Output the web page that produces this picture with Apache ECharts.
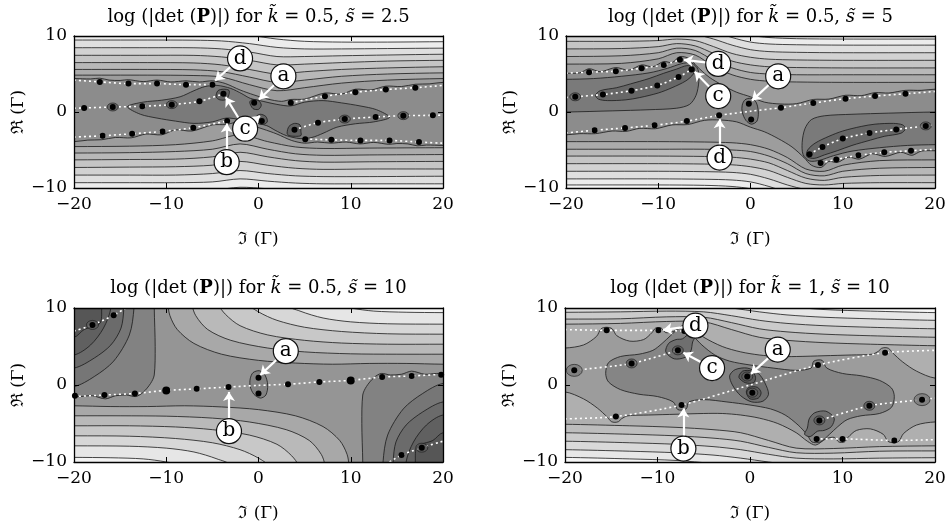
<!DOCTYPE html>
<html>
<head>
<meta charset="utf-8">
<script src="https://cdn.jsdelivr.net/npm/echarts@6/dist/echarts.min.js"></script>
<style>
  html, body { margin: 0; background: #fff; }
  #chart { width: 952px; height: 530px; }
</style>
</head>
<body>
<div id="chart"></div>
<script>
// ---- panel parameters ----
const kValues = ['0.5', '0.5', '0.5', '1'];
const sValues = ['2.5', '5', '10', '10'];

// ---- panel 1 : k=0.5, s=2.5 ----
const xs1 = [-20, -12, -7, -4, -1, 2, 5, 9, 14, 20];
const upper1 = [
  [10.5, 10.5, 10.5, 10.4, 10.1, 9.6, 9.3, 9.2, 9.2, 9.25],
  [9.47, 9.47, 9.45, 9.35, 9.0, 8.5, 8.3, 8.3, 8.35, 8.4],
  [8.46, 8.46, 8.45, 8.3, 7.9, 7.3, 7.3, 7.4, 7.5, 7.6],
  [7.46, 7.46, 7.45, 7.25, 6.8, 6.2, 6.3, 6.5, 6.7, 6.8],
  [6.5, 6.5, 6.45, 6.2, 5.6, 5.0, 5.3, 5.6, 5.8, 5.95],
  [5.6, 5.6, 5.55, 5.3, 4.6, 3.9, 4.2, 4.7, 5.0, 5.15],
  [4.85, 4.85, 4.8, 4.6, 3.6, 2.8, 3.2, 3.8, 4.2, 4.4]
];
const xs1b = [-20, -14, -9, -5, -2, 1, 4, 7, 12, 20];
const lower1 = [
  [-10.4, -10.4, -10.4, -10.3, -9.9, -10.1, -10.3, -10.4, -10.45, -10.5],
  [-9.3, -9.3, -9.3, -9.2, -8.8, -9.1, -9.35, -9.45, -9.45, -9.45],
  [-8.3, -8.3, -8.3, -8.1, -7.7, -8.1, -8.4, -8.5, -8.5, -8.45],
  [-7.3, -7.25, -7.2, -7.0, -6.5, -7.0, -7.4, -7.55, -7.5, -7.5],
  [-6.3, -6.25, -6.2, -5.9, -5.3, -5.9, -6.4, -6.6, -6.55, -6.5],
  [-5.4, -5.35, -5.2, -4.9, -4.2, -4.9, -5.5, -5.7, -5.65, -5.6],
  [-4.55, -4.5, -4.3, -3.8, -3.0, -3.9, -4.6, -4.8, -4.75, -4.7]
];
const ctop1 = [[-20,4.4],[-18.2,4.35],[-17.2,4.45],[-16.2,4.2],[-15,4.15],[-14.1,4.25],[-12.5,4.0],[-11,4.2],[-9.5,3.95],[-7.86,4.1],[-6.4,3.95],[-5,4.1],[-3.6,3.75],[-2,2.9],[-0.5,2.25],[1,1.7],[2.5,1.4],[3.5,1.65],[5,1.7],[7.2,2.5],[9,2.35],[10.5,3.0],[12.2,2.9],[13.8,3.4],[15.5,3.35],[17,3.65],[18.5,3.7],[20,3.9]];
const cbot1 = [[-20,-3.9],[-18.5,-3.7],[-17,-3.65],[-15.5,-3.35],[-13.8,-3.4],[-12.2,-2.9],[-10.5,-3.0],[-9,-2.35],[-7.2,-2.5],[-5,-1.7],[-3.5,-1.65],[-2.5,-1.4],[-1,-1.7],[0.5,-2.25],[2,-2.9],[3.6,-3.75],[5,-4.1],[6.4,-3.95],[7.86,-4.1],[9.5,-3.95],[11,-4.2],[12.5,-4.0],[14.1,-4.25],[15,-4.15],[16.2,-4.2],[17.2,-4.45],[18.2,-4.35],[20,-4.4]];
const inner1 = [[-14.2,0.7],[-12.5,1.3],[-10.5,1.55],[-8.5,2.0],[-7,2.8],[-5.8,3.35],[-4.5,3.5],[-3,3.1],[-1.8,2.4],[-0.9,1.8],[0.5,1.4],[2,1.0],[3.5,0.8],[5,1.3],[7,1.5],[9,1.2],[11,0.8],[12.8,0.3],[14.2,-0.7],[12.5,-1.3],[10.5,-1.55],[8.5,-2.0],[7,-2.8],[5.8,-3.35],[4.5,-3.5],[3,-3.1],[1.8,-2.4],[0.9,-1.8],[-0.5,-1.4],[-2,-1.0],[-3.5,-0.8],[-5,-1.3],[-7,-1.5],[-9,-1.2],[-11,-0.8],[-12.8,-0.3]];
const dark1 = [
  [[-4.6,2.0],[-4.4,2.8],[-3.8,3.0],[-3.2,2.85],[-3.2,2.3],[-3.5,1.65],[-4.2,1.6]],
  [[-0.95,1.3],[-0.6,1.65],[0.05,1.45],[0.3,0.9],[0.0,0.35],[-0.6,0.45]],
  [[-0.3,-0.65],[0.2,-0.3],[0.8,-0.6],[0.95,-1.3],[0.45,-1.65],[-0.2,-1.35]],
  [[3.1,-2.8],[3.3,-1.9],[3.9,-1.5],[4.5,-1.7],[4.6,-2.6],[4.6,-3.1],[4.0,-3.2],[3.3,-3.1]]
];
const zeros1 = [[-17.2,3.96],[-14.1,3.74],[-11.0,3.74],[-7.86,3.6],[-5.0,3.6],[-3.8,2.4],[-6.4,1.4],[-9.4,0.97],[-12.6,0.75],[-15.8,0.66],[-18.9,0.53],[-0.47,1.23],[0.36,-1.19],[-3.4,-1.19],[-7.07,-2.07],[-10.4,-2.56],[-13.7,-2.86],[-16.9,-3.13],[3.9,-2.33],[6.45,-1.4],[9.35,-0.93],[12.7,-0.66],[15.7,-0.48],[18.9,-0.44],[3.5,1.23],[7.2,2.07],[10.5,2.6],[13.8,2.95],[17.0,3.2],[5.07,-3.57],[7.9,-3.66],[11.05,-3.74],[14.2,-3.74],[17.4,-3.96]];
const rings1 = [[-15.8,0.66],[-9.4,0.97],[9.35,-0.93],[15.7,-0.48]];
const paths1 = [
  [[-20,4.2],[-17.2,3.96],[-14.1,3.74],[-11,3.74],[-7.86,3.6],[-5,3.6]],
  [[-20,0.5],[-18.9,0.53],[-15.8,0.66],[-12.6,0.75],[-9.4,0.97],[-6.4,1.4],[-3.8,2.4]],
  [[-20,-3.3],[-16.9,-3.13],[-13.7,-2.86],[-10.4,-2.56],[-7.07,-2.07],[-3.4,-1.19]],
  [[3.5,1.23],[7.2,2.07],[10.5,2.6],[13.8,2.95],[17,3.2],[20,3.5]],
  [[3.9,-2.33],[6.45,-1.4],[9.35,-0.93],[12.7,-0.66],[15.7,-0.48],[18.9,-0.44],[20,-0.4]],
  [[5.07,-3.57],[7.9,-3.66],[11.05,-3.74],[14.2,-3.74],[17.4,-3.96],[20,-4.1]]
];
const tags1 = [['d',-2.0,7.05],['a',2.7,4.7],['c',-1.45,-2.2],['b',-3.45,-6.6]];
const arrows1 = [[-2.0,7.05,-4.7,4.15],[2.7,4.7,0.05,1.65],[-1.45,-2.2,-3.55,1.95],[-1.45,-2.2,0.15,-0.5],[-3.45,-6.6,-3.45,-1.5]];

// ---- panel 2 : k=0.5, s=5 ----
const xs2 = [-20, -14, -10, -8, -6, -4, -2, 0, 2, 5, 10, 20];
const upper2 = [
  [12.2, 12.2, 12.2, 12.2, 12.0, 11.5, 10.7, 10.1, 9.8, 9.65, 9.6, 9.6],
  [11.3, 11.3, 11.3, 11.3, 11.1, 10.6, 9.8, 9.2, 8.95, 8.85, 8.8, 8.8],
  [10.3, 10.3, 10.35, 10.4, 10.2, 9.6, 8.8, 8.2, 7.95, 7.85, 7.8, 7.8],
  [9.3, 9.3, 9.4, 9.6, 9.4, 8.6, 7.7, 7.2, 6.95, 6.85, 6.8, 6.8],
  [8.3, 8.35, 8.6, 9.0, 8.7, 7.7, 6.7, 6.2, 5.95, 5.85, 5.8, 5.8],
  [7.3, 7.4, 7.8, 8.4, 8.1, 6.8, 5.8, 5.2, 5.0, 4.9, 4.9, 4.9],
  [6.3, 6.4, 7.0, 7.8, 7.5, 6.0, 4.9, 4.3, 4.05, 3.95, 3.9, 3.9]
];
const xs2b = [-20, -10, -5, -2, 0, 2, 4, 6, 8, 10, 14, 20];
const lower2 = [
  [-9.6, -9.6, -9.65, -9.8, -10.1, -10.7, -11.5, -12.0, -12.2, -12.2, -12.2, -12.2],
  [-8.8, -8.8, -8.85, -8.95, -9.2, -9.8, -10.6, -11.1, -11.3, -11.3, -11.3, -11.3],
  [-7.8, -7.8, -7.85, -7.95, -8.2, -8.8, -9.6, -10.2, -10.4, -10.35, -10.3, -10.3],
  [-6.8, -6.8, -6.85, -6.95, -7.2, -7.7, -8.6, -9.4, -9.6, -9.4, -9.3, -9.3],
  [-5.8, -5.8, -5.85, -5.95, -6.2, -6.7, -7.7, -8.7, -9.0, -8.6, -8.35, -8.3],
  [-4.9, -4.9, -4.9, -5.0, -5.2, -5.8, -6.8, -8.1, -8.4, -7.8, -7.4, -7.3],
  [-3.9, -3.9, -3.95, -4.05, -4.3, -4.9, -6.0, -7.5, -7.8, -7.0, -6.4, -6.3]
];
const mtop2 = [[-20,5.1],[-18.5,5.15],[-17.5,5.7],[-16.3,5.3],[-14.6,5.85],[-13.2,5.5],[-11.8,6.2],[-10.6,5.95],[-9.4,6.65],[-8.5,6.5],[-7.65,7.3],[-6.6,7.0],[-5.8,6.0],[-4.5,4.6],[-3,3.5],[-1.5,2.6],[0,2.0],[1.5,1.3],[3.3,1.05],[5,1.1],[6.8,1.65],[8.5,1.7],[10.3,2.2],[12,2.15],[13.5,2.55],[15,2.5],[16.8,2.85],[18.5,2.85],[20,3.0]];
const mbot2 = [[-20,-3.0],[-18.5,-2.85],[-16.8,-2.85],[-15,-2.5],[-13.5,-2.55],[-12,-2.15],[-10.3,-2.2],[-8.5,-1.7],[-6.8,-1.65],[-5,-1.1],[-3.3,-1.05],[-1.5,-1.3],[0,-2.0],[1.5,-2.6],[3,-3.5],[4.5,-4.6],[5.8,-6.0],[6.6,-7.0],[7.65,-7.3],[8.5,-6.5],[9.4,-6.65],[10.6,-5.95],[11.8,-6.2],[13.2,-5.5],[14.6,-5.85],[16.3,-5.3],[17.5,-5.7],[18.5,-5.15],[20,-5.1]];
const lobes2 = [
  [[-20,0.0],[-15,0.15],[-11,0.3],[-8,0.5],[-6.6,1.0],[-5.9,2.2],[-5.6,4.0],[-5.7,5.6],[-6.4,6.45],[-7.5,6.35],[-9,5.75],[-11,5.15],[-14,4.7],[-17,4.4],[-20,4.3]],
  [[20,0.0],[15,-0.15],[11,-0.3],[8,-0.5],[6.6,-1.0],[5.9,-2.2],[5.6,-4.0],[5.7,-5.6],[6.4,-6.45],[7.5,-6.35],[9,-5.75],[11,-5.15],[14,-4.7],[17,-4.4],[20,-4.3]]
];
const cores2 = [
  [[-16.8,2.2],[-16.3,2.8],[-14.5,3.2],[-13,3.7],[-11,4.4],[-9.4,5.1],[-8,5.65],[-6.9,6.1],[-6.1,5.85],[-6.2,5.0],[-7.0,4.1],[-8.5,3.2],[-10,2.5],[-12,1.9],[-13.5,1.6],[-15.5,1.5],[-16.5,1.7]],
  [[16.8,-2.2],[16.3,-2.8],[14.5,-3.2],[13,-3.7],[11,-4.4],[9.4,-5.1],[8,-5.65],[6.9,-6.1],[6.1,-5.85],[6.2,-5.0],[7.0,-4.1],[8.5,-3.2],[10,-2.5],[12,-1.9],[13.5,-1.6],[15.5,-1.5],[16.5,-1.7]]
];
const oval2 = [[-0.9,0.9],[-0.6,1.6],[0,1.8],[0.6,1.3],[0.85,0.0],[0.7,-1.2],[0.1,-1.6],[-0.5,-1.1],[-0.9,0.0]];
const zeros2 = [[-17.5,5.24],[-14.6,5.37],[-11.8,5.76],[-9.4,6.2],[-7.65,6.86],[-19.0,2.0],[-16.0,2.3],[-12.9,2.8],[-10.1,3.5],[-7.8,4.6],[-6.4,5.6],[-16.9,-2.4],[-13.6,-2.1],[-10.4,-1.75],[-6.9,-1.2],[-3.4,-0.44],[-0.18,1.1],[0.07,-1.0],[3.3,0.57],[6.8,1.18],[10.3,1.75],[13.5,2.1],[16.8,2.4],[6.4,-5.55],[7.8,-4.6],[10.0,-3.5],[12.9,-2.75],[15.8,-2.3],[19.0,-1.83],[7.6,-6.7],[9.3,-6.24],[11.7,-5.7],[14.5,-5.3],[17.4,-5.1]];
const rings2 = [[-19.0,2.0],[19.0,-1.83]];
const paths2 = [
  [[-20,5.1],[-17.5,5.24],[-14.6,5.37],[-11.8,5.76],[-9.4,6.2],[-7.65,6.86]],
  [[-20,1.9],[-19,2.0],[-16,2.3],[-12.9,2.8],[-10.1,3.5],[-7.8,4.6],[-6.4,5.6]],
  [[-20,-2.75],[-16.9,-2.4],[-13.6,-2.1],[-10.4,-1.75],[-6.9,-1.2],[-3.4,-0.44],[0,0.1],[3.3,0.57],[6.8,1.18],[10.3,1.75],[13.5,2.1],[16.8,2.4],[20,2.7]],
  [[6.4,-5.55],[7.8,-4.6],[10,-3.5],[12.9,-2.75],[15.8,-2.3],[19,-1.83],[20,-1.7]],
  [[7.6,-6.7],[9.3,-6.24],[11.7,-5.7],[14.5,-5.3],[17.4,-5.1],[20,-4.9]]
];
const tags2 = [['d',-3.5,6.33],['c',-3.5,2.1],['a',3.0,4.7],['d',-3.35,-6.0]];
const arrows2 = [[-3.5,6.33,-7.2,6.85],[-3.5,2.1,-6.05,5.3],[3.0,4.7,0.15,1.5],[-3.35,-6.0,-3.35,-0.95]];

// ---- panel 3 : k=0.5, s=10 ----
const upLines3 = [
  [[8.5,10.5],[10,10.0],[12.5,9.6],[16,9.45],[20,9.4]],
  [[3.0,10.5],[4.5,9.6],[7,8.7],[10,8.2],[14,7.95],[20,7.9]],
  [[-1.0,10.5],[0,9.5],[2,8.4],[5,7.5],[9,6.95],[14,6.65],[20,6.6]],
  [[-4.3,10.5],[-3.6,9.2],[-2,7.7],[1,6.5],[5,5.8],[9,5.45],[14,5.3],[20,5.3]],
  [[-7.2,10.5],[-6.8,9.0],[-5.5,7.2],[-3,5.8],[1,4.8],[5,4.3],[10,4.05],[15,4.0],[20,4.0]],
  [[-9.8,10.5],[-9.6,9.0],[-8.8,7.2],[-7,5.4],[-4,4.0],[0,3.2],[4,2.85],[8,2.7],[12,2.8],[16,2.8],[20,2.7]]
];
const lowLines3 = [
  [[-20,-9.4],[-16,-9.45],[-12.5,-9.6],[-10,-10.0],[-8.5,-10.5]],
  [[-20,-7.9],[-14,-7.95],[-10,-8.2],[-7,-8.7],[-4.5,-9.6],[-3.0,-10.5]],
  [[-20,-6.6],[-14,-6.65],[-9,-6.95],[-5,-7.5],[-2,-8.4],[0,-9.5],[1.0,-10.5]],
  [[-20,-5.3],[-14,-5.3],[-9,-5.45],[-5,-5.8],[-1,-6.5],[2,-7.7],[3.6,-9.2],[4.3,-10.5]],
  [[-20,-4.0],[-15,-4.0],[-10,-4.05],[-5,-4.3],[-1,-4.8],[3,-5.8],[5.5,-7.2],[6.8,-9.0],[7.2,-10.5]],
  [[-20,-2.7],[-16,-2.8],[-12,-2.8],[-8,-2.7],[-4,-2.85],[0,-3.2],[4,-4.0],[7,-5.4],[8.8,-7.2],[9.6,-9.0],[9.8,-10.5]]
];
const tlEdge3 = [[-11.3,10],[-11.2,5],[-11.3,1.3],[-11.7,0.2],[-12.5,-0.95],[-13.3,-1.5],[-14.3,-1.3],[-15.5,-1.4],[-16.6,-1.8],[-18,-1.4],[-19.3,-1.5],[-20,-1.5]];
const brEdge3 = [[11.3,-10],[11.2,-5],[11.3,-1.3],[11.7,-0.2],[12.5,0.95],[13.3,1.5],[14.3,1.3],[15.5,1.4],[16.6,1.8],[18,1.4],[19.3,1.5],[20,1.5]];
const tlArcs3 = [
  [[-20,-0.2],[-17.8,1.1],[-15.7,3.1],[-14.0,6.5],[-13.5,10]],
  [[-20,2.2],[-17.8,3.5],[-16,5.2],[-14.9,7.4],[-14.6,10]],
  [[-20,3.9],[-18.2,5.2],[-16.8,7.4],[-16,10]],
  [[-20,6.2],[-18.9,7.2],[-17.2,8.0],[-17.0,10]]
];
const brArcs3 = [
  [[20,0.2],[17.8,-1.1],[15.7,-3.1],[14.0,-6.5],[13.5,-10]],
  [[20,-2.2],[17.8,-3.5],[16,-5.2],[14.9,-7.4],[14.6,-10]],
  [[20,-3.9],[18.2,-5.2],[16.8,-7.4],[16,-10]],
  [[20,-6.2],[18.9,-7.2],[17.2,-8.0],[17.0,-10]]
];
const oval3 = [[-0.9,0.8],[-0.6,1.6],[0.1,1.85],[0.7,1.3],[1.0,0.0],[0.8,-1.3],[0.2,-1.7],[-0.5,-1.2],[-0.9,-0.2]];
const zeros3 = [[-15.7,9.05],[-18.0,7.8],[-19.9,-1.4],[-16.7,-1.3],[-13.4,-1.1],[-6.7,-0.5],[-3.25,-0.26],[0.0,0.95],[0.0,-1.1],[3.2,0.1],[6.6,0.4],[13.4,1.04],[16.6,1.17],[19.8,1.34],[17.7,-8.14],[15.5,-9.1]];
const bigZeros3 = [[-10.0,-0.7],[10.0,0.6]];
const rings3 = [[-18.0,7.8],[17.7,-8.14]];
const paths3 = [
  [[-20,-1.5],[-16.7,-1.3],[-13.4,-1.1],[-10,-0.7],[-6.7,-0.5],[-3.25,-0.26],[0,-0.05],[3.2,0.1],[6.6,0.4],[10,0.6],[13.4,1.04],[16.6,1.17],[20,1.4]],
  [[-20,7.0],[-18,7.8],[-15.7,9.05],[-14.4,10]],
  [[14.2,-10],[15.5,-9.1],[17.7,-8.14],[20,-7.3]]
];
const tags3 = [['a',2.96,4.4],['b',-3.2,-6.0]];
const arrows3 = [[2.96,4.4,0.2,1.3],[-3.2,-6.0,-3.2,-0.9]];

// ---- panel 4 : k=1, s=10 ----
const xs4 = [-20, -14, -9, -5, -2, 1, 4, 8, 13, 20];
const upper4 = [
  [11.2, 11.2, 11.2, 11.2, 11.0, 10.6, 10.2, 9.8, 9.6, 9.4],
  [10.3, 10.3, 10.4, 10.4, 10.0, 9.5, 9.1, 8.8, 8.6, 8.4],
  [9.44, 9.5, 9.6, 9.5, 9.0, 8.4, 8.0, 7.7, 7.5, 7.3],
  [8.56, 8.6, 8.85, 8.8, 8.1, 7.3, 6.9, 6.6, 6.4, 6.2],
  [7.9, 8.0, 8.25, 8.2, 7.2, 6.2, 5.8, 5.5, 5.3, 5.1]
];
const xs4b = [-20, -13, -8, -4, -1, 2, 5, 9, 14, 20];
const lower4 = [
  [-9.4, -9.6, -9.8, -10.2, -10.6, -11.0, -11.2, -11.2, -11.2, -11.2],
  [-8.4, -8.6, -8.8, -9.1, -9.5, -10.0, -10.4, -10.4, -10.3, -10.3],
  [-7.3, -7.5, -7.7, -8.0, -8.4, -9.0, -9.5, -9.6, -9.5, -9.44],
  [-6.2, -6.4, -6.6, -6.9, -7.3, -8.1, -8.8, -8.85, -8.6, -8.56],
  [-5.1, -5.3, -5.5, -5.8, -6.2, -7.2, -8.2, -8.25, -8.0, -7.9]
];
const qtop4 = [[-20,4.8],[-18,5.2],[-16.6,6.3],[-16.1,7.3],[-15.5,7.5],[-14.9,7.3],[-14.4,6.4],[-13,5.7],[-11.5,5.9],[-10.6,6.8],[-10.2,7.4],[-9.6,7.4],[-9.1,6.8],[-8.2,7.0],[-7.1,7.8],[-6.2,7.3],[-5,6.2],[-3,5.0],[-1,4.3],[1,3.9],[3,3.7],[5,3.7],[8,3.8],[11,3.9],[13.2,4.0],[13.9,4.4],[14.2,4.75],[14.6,4.85],[15.0,4.75],[15.4,4.2],[16.5,3.0],[18,1.8],[20,0.9]];
const qbot4 = [[-20,-0.9],[-18,-1.8],[-16.5,-3.0],[-15.4,-4.2],[-15.0,-4.75],[-14.6,-4.85],[-14.2,-4.75],[-13.9,-4.4],[-13.2,-4.0],[-11,-3.9],[-8,-3.8],[-5,-3.7],[-3,-3.7],[-1,-3.9],[1,-4.3],[3,-5.0],[5,-6.2],[6.2,-7.3],[7.1,-7.8],[8.2,-7.0],[9.1,-6.8],[9.6,-7.4],[10.2,-7.4],[10.6,-6.8],[11.5,-5.9],[13,-5.7],[14.4,-6.4],[14.9,-7.3],[15.5,-7.5],[16.1,-7.3],[16.6,-6.3],[18,-5.2],[20,-4.8]];
const body4 = [[-15.6,1.5],[-15.3,2.9],[-14,3.7],[-12,4.0],[-10.5,4.5],[-9.5,5.4],[-8.6,6.4],[-7.6,7.4],[-6.7,7.4],[-6.2,6.5],[-5.2,5.2],[-3.8,3.9],[-2.2,3.1],[0,2.6],[2.5,2.2],[5,1.9],[6.6,2.2],[6.9,3.1],[7.8,3.2],[8.3,2.2],[10,1.5],[12,1.2],[14,0.6],[15.3,-0.4],[15.6,-1.5],[15.3,-2.9],[14,-3.7],[12,-4.0],[10.5,-4.5],[9.5,-5.4],[8.6,-6.4],[7.6,-7.4],[6.7,-7.4],[6.2,-6.5],[5.2,-5.2],[3.8,-3.9],[2.2,-3.1],[0,-2.6],[-2.5,-2.2],[-5,-1.9],[-6.6,-2.2],[-6.9,-3.1],[-7.8,-3.2],[-8.3,-2.2],[-10,-1.5],[-12,-1.2],[-14,-0.6],[-15.3,0.4]];
const blobs4 = [
  [[-9.1,4.3],[-8.8,5.4],[-8.0,5.9],[-7.3,6.0],[-6.5,6.7],[-5.9,6.4],[-6.2,5.6],[-6.4,4.4],[-7.0,3.6],[-8.2,3.4]],
  [[9.1,-4.3],[8.8,-5.4],[8.0,-5.9],[7.3,-6.0],[6.5,-6.7],[5.9,-6.4],[6.2,-5.6],[6.4,-4.4],[7.0,-3.6],[8.2,-3.4]],
  [[-2.2,1.2],[-1.6,2.0],[-0.3,2.2],[0.9,1.5],[1.6,0.3],[2.0,-1.2],[1.4,-2.1],[0.2,-2.2],[-1.0,-1.4],[-1.9,0.0]]
];
const cores4 = [
  [[-1.2,1.0],[-0.8,1.8],[0.2,1.8],[0.6,1.0],[0.4,0.3],[-0.5,0.3]],
  [[-0.4,-0.9],[-0.1,-0.3],[0.8,-0.3],[1.2,-1.0],[0.9,-1.7],[0.0,-1.8]]
];
const zeros4 = [[-15.5,7.1],[-9.9,7.1],[-7.1,7.0],[-7.8,4.5],[-12.8,2.8],[-19.0,1.9],[-0.3,1.1],[0.25,-1.0],[-7.4,-2.6],[-14.5,-4.1],[7.5,-4.6],[12.9,-2.7],[18.6,-1.9],[7.2,-7.0],[10.0,-7.0],[15.6,-7.2],[7.35,2.6],[14.6,4.2]];
const bigRings4 = [[-19.0,1.9],[18.6,-1.9]];
const rings4 = [[-12.8,2.8],[12.9,-2.7],[-7.8,4.5],[7.5,-4.6],[-0.3,1.1],[0.25,-1.0]];
const paths4 = [
  [[-20,7.2],[-15.5,7.1],[-9.9,7.1],[-7.1,7.0]],
  [[-20,1.7],[-19,1.9],[-12.8,2.8],[-7.8,4.5]],
  [[-20,-4.4],[-14.5,-4.1],[-7.4,-2.6],[0,0],[7.35,2.6],[14.6,4.2],[20,4.5]],
  [[7.8,-4.5],[12.9,-2.7],[18.6,-1.9],[20,-1.7]],
  [[7.1,-7.0],[10,-7.0],[15.6,-7.2],[20,-7.1]]
];
const tags4 = [['d',-5.9,7.7],['c',-4.1,2.2],['a',3.0,4.6],['b',-7.2,-8.26]];
const arrows4 = [[-5.9,7.7,-9.4,7.15],[-4.1,2.2,-7.2,4.2],[3.0,4.6,0.1,1.45],[-7.2,-8.26,-7.2,-3.05]];

// ---- styling ----
const FONT = '"DejaVu Serif", "Liberation Serif", serif';
const LINE = '#1a1a1a';
const grids = [
  { left: 74, top: 36, width: 369, height: 152 },
  { left: 566, top: 36, width: 369, height: 152 },
  { left: 74, top: 308, width: 369, height: 154 },
  { left: 565, top: 308, width: 370, height: 154 }
];
const bgColors = ['#f6f6f6', '#f6f6f6', '#f3f3f3', '#f5f5f5'];
const bands7 = ['#ececec', '#dfdfdf', '#d2d2d2', '#c5c5c5', '#b8b8b8', '#ababab', '#9d9d9d'];

// ---- geometry helpers (closing contour lines outside the plot area) ----
function ext(p) {
  if (p[0] <= -19.9) return [-24, p[1]];
  if (p[0] >= 19.9) return [24, p[1]];
  if (p[1] >= 9.9) return [p[0], 14];
  if (p[1] <= -9.9) return [p[0], -14];
  return null;
}
function region(pts, corner) {
  const out = [];
  const a = ext(pts[0]), b = ext(pts[pts.length - 1]);
  if (a) out.push(a);
  out.push(...pts);
  if (b) out.push(b);
  if (corner) out.push(corner);
  return out;
}
function strip(up, low) {
  return [ext(up[0]), ...up, ext(up[up.length - 1]), [24, -14],
    ext(low[low.length - 1]), ...low.slice().reverse(), ext(low[0]), [-24, 14]];
}
const zip = (xs, ys) => xs.map((x, i) => [x, ys[i]]);

// regions of each panel, drawn from lightest to darkest
const regions = [[], [], [], []];
upper1.forEach((u, k) => regions[0].push({ pts: strip(zip(xs1, u), zip(xs1b, lower1[k])), color: bands7[k] }));
regions[0].push({ pts: strip(ctop1, cbot1), color: '#8c8c8c' });
regions[0].push({ pts: inner1, color: '#7a7a7a' });
dark1.forEach(b => regions[0].push({ pts: b, color: '#626262' }));

upper2.forEach((u, k) => regions[1].push({ pts: strip(zip(xs2, u), zip(xs2b, lower2[k])), color: bands7[k] }));
regions[1].push({ pts: strip(mtop2, mbot2), color: '#8c8c8c' });
lobes2.forEach(b => regions[1].push({ pts: region(b), color: '#7a7a7a' }));
cores2.forEach(b => regions[1].push({ pts: b, color: '#676767' }));
regions[1].push({ pts: oval2, color: '#7a7a7a' });

const bands3 = ['#e6e6e6', '#d7d7d7', '#c8c8c8', '#b9b9b9', '#a8a8a8', '#959595'];
upLines3.forEach((u, k) => regions[2].push({ pts: strip(u, lowLines3[k]), color: bands3[k] }));
regions[2].push({ pts: region(tlEdge3, [-24, 14]), color: '#828282' });
regions[2].push({ pts: region(brEdge3, [24, -14]), color: '#828282' });
const arcColors3 = ['#767676', '#6b6b6b', '#606060', '#565656'];
tlArcs3.forEach((a, k) => regions[2].push({ pts: region(a, [-24, 14]), color: arcColors3[k] }));
brArcs3.forEach((a, k) => regions[2].push({ pts: region(a, [24, -14]), color: arcColors3[k] }));
regions[2].push({ pts: oval3, color: '#828282' });

const bands5 = ['#e7e7e7', '#d9d9d9', '#cbcbcb', '#bdbdbd', '#afafaf'];
upper4.forEach((u, k) => regions[3].push({ pts: strip(zip(xs4, u), zip(xs4b, lower4[k])), color: bands5[k] }));
regions[3].push({ pts: strip(qtop4, qbot4), color: '#9c9c9c' });
regions[3].push({ pts: body4, color: '#858585' });
blobs4.forEach(b => regions[3].push({ pts: b, color: '#6f6f6f' }));
cores4.forEach(b => regions[3].push({ pts: b, color: '#5c5c5c' }));

const panels = [
  { zeros: zeros1, big: [], rings: rings1, ringSize: [11, 8], bigRings: [], paths: paths1, tags: tags1, arrows: arrows1 },
  { zeros: zeros2, big: [], rings: rings2, ringSize: [11, 8], bigRings: [], paths: paths2, tags: tags2, arrows: arrows2 },
  { zeros: zeros3, big: bigZeros3, rings: rings3, ringSize: [12, 9], bigRings: [], paths: paths3, tags: tags3, arrows: arrows3 },
  { zeros: zeros4, big: [], rings: rings4, ringSize: [11, 9], bigRings: bigRings4, paths: paths4, tags: tags4, arrows: arrows4 }
];

const negFmt = v => (v < 0 ? '\u2212' + Math.abs(v) : String(v));
const labelStyle = { color: '#000', fontSize: 17, fontFamily: FONT };

const option = {
  animation: false,
  backgroundColor: '#fff',
  title: [], grid: [], xAxis: [], yAxis: [], series: []
};

grids.forEach((g, i) => {
  option.grid.push(Object.assign({ show: true, backgroundColor: bgColors[i], borderWidth: 0, containLabel: false, outerBoundsMode: 'none' }, g));
  option.title.push({
    text: 'log (|det ({b|P})|) for {i|k\u0303} = ' + kValues[i] + ', {i|s\u0303} = ' + sValues[i],
    left: g.left + g.width / 2, top: i < 2 ? 8 : 279, textAlign: 'center', padding: 0,
    textStyle: {
      fontFamily: FONT, fontSize: 18, fontWeight: 'normal', color: '#000',
      rich: {
        b: { fontFamily: FONT, fontSize: 18, fontWeight: 'bold', color: '#000' },
        i: { fontFamily: FONT, fontSize: 18, fontStyle: 'italic', color: '#000' }
      }
    }
  });
  const axisBase = {
    gridIndex: i, type: 'value', z: 9, splitLine: { show: false },
    axisLine: { show: true, onZero: false, lineStyle: { color: '#000', width: 1.3 } },
    axisTick: { show: true, inside: true, length: 5, lineStyle: { color: '#000', width: 1 } }
  };
  option.xAxis.push(Object.assign({}, axisBase, {
    position: 'bottom', min: -20, max: 20, interval: 10,
    axisLabel: Object.assign({ margin: 8, formatter: negFmt }, labelStyle),
    name: '\u2111 (\u0393)', nameLocation: 'middle', nameGap: 43, nameTextStyle: labelStyle
  }));
  option.xAxis.push(Object.assign({}, axisBase, {
    position: 'top', min: -20, max: 20, interval: 10, axisLabel: { show: false }
  }));
  option.yAxis.push(Object.assign({}, axisBase, {
    position: 'left', min: -10, max: 10, interval: 10,
    axisLabel: Object.assign({ margin: 7, formatter: negFmt }, labelStyle),
    name: '\u211C (\u0393)', nameLocation: 'middle', nameRotate: 90, nameGap: 46, nameTextStyle: labelStyle
  }));
  option.yAxis.push(Object.assign({}, axisBase, {
    position: 'right', min: -10, max: 10, interval: 10, axisLabel: { show: false }
  }));

  const ax = { xAxisIndex: 2 * i, yAxisIndex: 2 * i };
  const regs = regions[i];
  option.series.push(Object.assign({
    type: 'custom', clip: true, silent: true, z: 1,
    data: regs.map(() => [0, 0]),
    renderItem: (params, api) => {
      const r = regs[params.dataIndex];
      return {
        type: 'polygon', z2: params.dataIndex,
        shape: { points: r.pts.map(p => api.coord(p)), smooth: 0.3 },
        style: { fill: r.color, stroke: LINE, lineWidth: 0.8 }
      };
    }
  }, ax));

  const p = panels[i];
  p.paths.forEach(path => option.series.push(Object.assign({
    type: 'line', data: path, symbol: 'none', smooth: 0.25, silent: true, z: 3,
    lineStyle: { color: '#fff', width: 1.6, type: [2, 3] }
  }, ax)));
  option.series.push(Object.assign({
    type: 'scatter', data: p.rings, symbol: 'circle', symbolSize: p.ringSize, silent: true, z: 4,
    itemStyle: { color: '#5e5e5e', borderColor: LINE, borderWidth: 0.8 }
  }, ax));
  option.series.push(Object.assign({
    type: 'scatter', data: p.bigRings, symbol: 'circle', symbolSize: [16, 12], silent: true, z: 4,
    itemStyle: { color: '#7a7a7a', borderColor: LINE, borderWidth: 0.8 }
  }, ax));
  option.series.push(Object.assign({
    type: 'scatter', data: p.zeros, symbol: 'circle', symbolSize: 6, silent: true, z: 5,
    itemStyle: { color: '#000', opacity: 1 }
  }, ax));
  option.series.push(Object.assign({
    type: 'scatter', data: p.big, symbol: 'circle', symbolSize: 8, silent: true, z: 5,
    itemStyle: { color: '#000', opacity: 1 }
  }, ax));
  option.series.push(Object.assign({
    type: 'lines', coordinateSystem: 'cartesian2d', silent: true, z: 6,
    symbol: ['none', 'arrow'], symbolSize: 9,
    lineStyle: { color: '#fff', width: 2.2, opacity: 1 },
    data: p.arrows.map(a => ({ coords: [[a[0], a[1]], [a[2], a[3]]] }))
  }, ax));
  option.series.push(Object.assign({
    type: 'scatter', symbol: 'circle', symbolSize: 25, silent: true, z: 7,
    itemStyle: { color: '#fff', borderColor: '#111', borderWidth: 1.2, opacity: 1 },
    label: { show: true, position: 'inside', formatter: '{b}', fontFamily: FONT, fontSize: 20, color: '#000' },
    data: p.tags.map(t => ({ name: t[0], value: [t[1], t[2]] }))
  }, ax));
});

const chart = echarts.init(document.getElementById('chart'), null, { renderer: 'canvas' });
chart.setOption(option);
</script>
</body>
</html>
